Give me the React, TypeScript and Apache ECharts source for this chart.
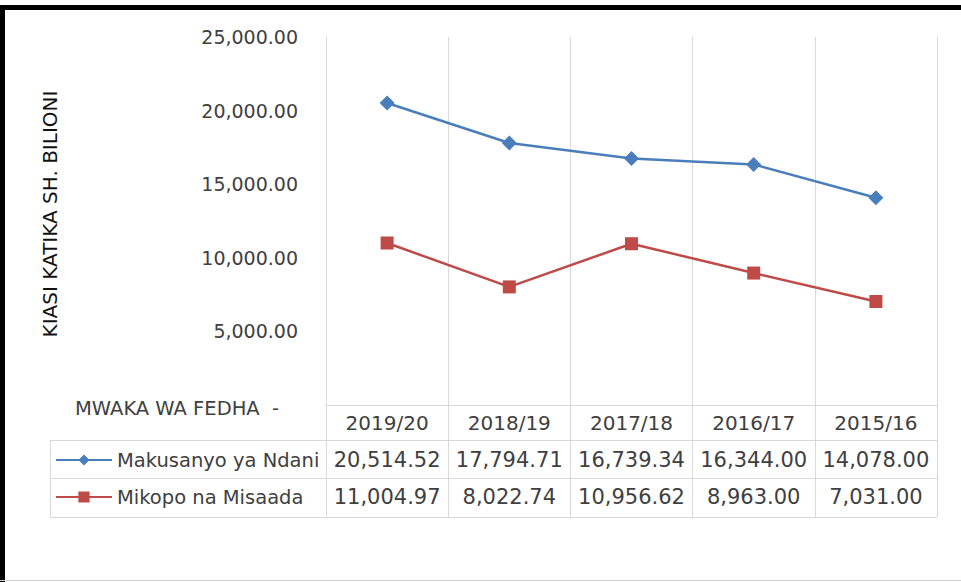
import React, { useEffect, useRef } from "react";
import * as echarts from "echarts";

const categories = ["2019/20", "2018/19", "2017/18", "2016/17", "2015/16"];
const makusanyo = [20514.52, 17794.71, 16739.34, 16344.0, 14078.0];
const mikopo = [11004.97, 8022.74, 10956.62, 8963.0, 7031.0];
const seriesNames = ["Makusanyo ya Ndani", "Mikopo na Misaada"];
const yMin = 0;
const yMax = 25000;
const yInterval = 5000;
const yTitle = "KIASI KATIKA SH. BILIONI";
const xTitle = "MWAKA WA FEDHA  -";

const FONT = "DejaVu Sans";
const TXT = "#404040";
const GRIDC = "#d9d9d9";
const BLUE = "#4a7ebb";
const RED = "#be4b48";

const fmt = (v: number) =>
  v.toLocaleString("en-US", { minimumFractionDigits: 2, maximumFractionDigits: 2 });

export default function App() {
  const ref = useRef<HTMLDivElement>(null);
  useEffect(() => {
    if (!ref.current) return;
    const chart = echarts.init(ref.current, undefined, { renderer: "svg" });
    const tableAxis = (data: string[], offset: number, tickLen: number, margin: number) => ({
      type: "category",
      data,
      position: "bottom",
      offset,
      boundaryGap: true,
      axisLine: { show: true, lineStyle: { color: GRIDC, width: 1 } },
      axisTick: { show: true, length: tickLen, lineStyle: { color: GRIDC, width: 1 } },
      axisLabel: { interval: 0, margin, fontSize: 21, color: TXT, fontFamily: FONT },
      splitLine: { show: false },
    });
    chart.setOption({
      animation: false,
      backgroundColor: "#ffffff",
      grid: { left: 326, right: 24, top: 37, bottom: 177 },
      xAxis: [
        {
          type: "category",
          data: categories,
          position: "bottom",
          boundaryGap: true,
          axisLine: { show: true, lineStyle: { color: GRIDC, width: 1 } },
          axisTick: { show: true, length: 35, lineStyle: { color: GRIDC, width: 1 } },
          axisLabel: { interval: 0, margin: 8, fontSize: 20, color: TXT, fontFamily: FONT },
          splitLine: { show: true, lineStyle: { color: GRIDC, width: 1 } },
        },
        tableAxis(makusanyo.map(fmt), 35, 38, 9),
        tableAxis(mikopo.map(fmt), 73, 39, 8),
      ],
      yAxis: {
        type: "value",
        min: yMin,
        max: yMax,
        interval: yInterval,
        axisLine: { show: false },
        axisTick: { show: false },
        splitLine: { show: false },
        axisLabel: {
          margin: 28,
          fontSize: 19,
          color: TXT,
          fontFamily: FONT,
          formatter: (v: number) => (v === 0 ? "" : fmt(v)),
        },
      },
      legend: {
        data: seriesNames,
        orient: "vertical",
        left: 55,
        top: 450,
        itemWidth: 56,
        itemHeight: 14,
        itemGap: 17,
        textStyle: { fontSize: 19.5, color: TXT, fontFamily: FONT },
        padding: 0,
      },
      series: [
        {
          name: seriesNames[0],
          type: "line",
          data: makusanyo,
          symbol: "diamond",
          symbolSize: 15,
          lineStyle: { color: BLUE, width: 2.5 },
          itemStyle: { color: BLUE },
        },
        {
          name: seriesNames[1],
          type: "line",
          data: mikopo,
          symbol: "rect",
          symbolSize: 13,
          lineStyle: { color: RED, width: 2.5 },
          itemStyle: { color: RED },
        },
      ],
      graphic: [
        { type: "rect", shape: { x: 0, y: 5, width: 961, height: 5 }, style: { fill: "#000" } },
        { type: "rect", shape: { x: 0, y: 5, width: 5, height: 577 }, style: { fill: "#000" } },
        { type: "line", shape: { x1: 0, y1: 580.5, x2: 961, y2: 580.5 }, style: { stroke: "#cfcfcf", lineWidth: 1 } },
        { type: "line", shape: { x1: 50, y1: 440.5, x2: 326, y2: 440.5 }, style: { stroke: GRIDC, lineWidth: 1 } },
        { type: "line", shape: { x1: 50, y1: 478.5, x2: 326, y2: 478.5 }, style: { stroke: GRIDC, lineWidth: 1 } },
        { type: "line", shape: { x1: 50, y1: 517.5, x2: 937, y2: 517.5 }, style: { stroke: GRIDC, lineWidth: 1 } },
        { type: "line", shape: { x1: 50.5, y1: 440, x2: 50.5, y2: 518 }, style: { stroke: GRIDC, lineWidth: 1 } },
        {
          type: "text",
          x: 75,
          y: 408,
          style: { text: xTitle, fontSize: 19.5, fill: TXT, fontFamily: FONT, align: "left", verticalAlign: "middle" },
        },
        {
          type: "text",
          x: 50,
          y: 214,
          rotation: Math.PI / 2,
          style: { text: yTitle, fontSize: 20, fill: "#111", fontFamily: FONT, align: "center", verticalAlign: "middle" },
        },
      ],
    });
    return () => chart.dispose();
  }, []);
  return (
    <div
      ref={ref}
      style={{ position: "fixed", left: 0, top: 0, width: 961, height: 582, background: "#fff" }}
    />
  );
}
